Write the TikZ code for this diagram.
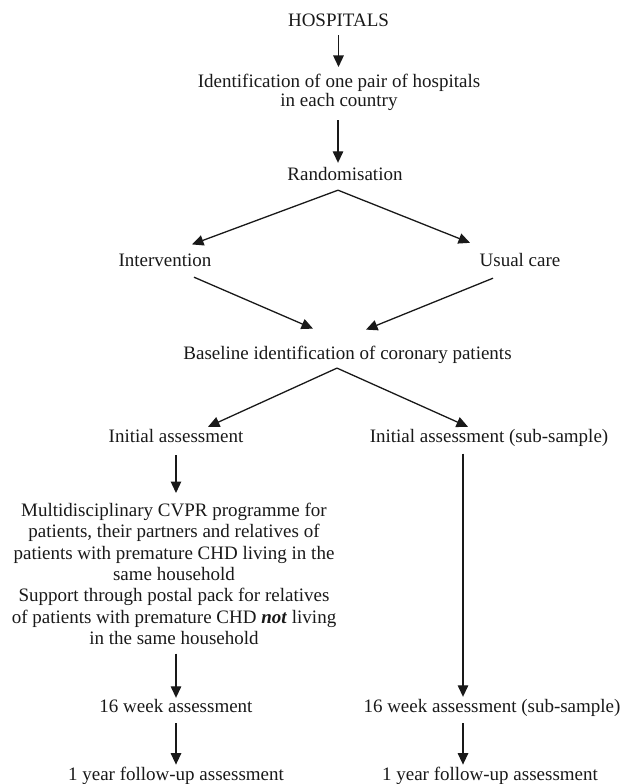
\documentclass[tikz,border=0pt]{standalone}
\usepackage{fontspec}
\setmainfont{Liberation Serif}
\usetikzlibrary{arrows.meta,calc}
\begin{document}
\begin{tikzpicture}[x=1pt,y=-1pt,
  lbl/.style={inner sep=0pt,outer sep=0pt,text=black!90,font=\fontsize{19}{19}\selectfont},
  multi/.style={lbl,align=center},
  arr/.style={line width=1.3pt,draw=black!90,-{Triangle[length=11.5pt,width=10.5pt]}}]
\useasboundingbox (0,0) rectangle (627,784);
% nodes
\node[lbl,anchor=base] (hosp) at (338.5,27) {HOSPITALS};
\node[multi,anchor=north,font=\fontsize{19}{19}\selectfont] (ident) at (339,74) {Identification of one pair of hospitals\\in each country};
\node[lbl,anchor=base] (rand) at (345,180) {Randomisation};
\node[lbl,anchor=base] (interv) at (165,266) {Intervention};
\node[lbl,anchor=base] (usual) at (520,266) {Usual care};
\node[lbl,anchor=base] (basel) at (347.5,359) {Baseline identification of coronary patients};
\node[lbl,anchor=base] (init) at (176,442) {Initial assessment};
\node[lbl,anchor=base] (initr) at (489,442) {Initial assessment (sub-sample)};
\node[multi,anchor=north,font=\fontsize{19}{21.33}\selectfont] (block) at (174,503) {Multidisciplinary CVPR programme for\\patients, their partners and relatives of\\patients with premature CHD living in the\\same household\\Support through postal pack for relatives\\of patients with premature CHD \textbf{\textit{not}} living\\in the same household};
\node[lbl,anchor=base] (w16) at (176,712) {16 week assessment};
\node[lbl,anchor=base] (w16r) at (492,712) {16 week assessment (sub-sample)};
\node[lbl,anchor=base] (y1) at (176,780) {1 year follow-up assessment};
\node[lbl,anchor=base] (y1r) at (490,780) {1 year follow-up assessment};
% apex coordinates
\coordinate (apexA) at ($(rand.south)+(-7,10)$);
\coordinate (apexB) at ($(basel.south)+(-10.5,5)$);
% connectors
\draw[arr] ($(hosp.south)+(0,8)$) -- ($(ident.north -| hosp.south)+(0,-7)$);
\draw[arr] ($(ident.south)+(-1,10)$) -- ($(rand.north -| ident.south)+(-1,-4)$);
\draw[arr] (apexA) -- ($(interv.north)+(27,-9)$);
\draw[arr] (apexA) -- ($(usual.north)+(-50,-10)$);
\draw[arr] ($(interv.south)+(29,11)$) -- ($(basel.north)+(-34.5,-17)$);
\draw[arr] ($(usual.south)+(-27,12)$) -- ($(basel.north)+(18.5,-16)$);
\draw[arr] (apexB) -- ($(init.north)+(32,-2)$);
\draw[arr] (apexB) -- ($(initr.north)+(-21,-2)$);
\draw[arr] ($(init.south)+(0,13)$) -- ($(block.north -| init.south)+(0,-10)$);
\draw[arr] ($(block.south -| init.south)+(0,9)$) -- ($(w16.north)+(0,-1)$);
\draw[arr] ($(w16.south)+(0,11)$) -- ($(y1.north)+(0,-2)$);
\draw[arr] ($(initr.south)+(-26,7.6)$) -- ($(w16r.north)+(-29,-2)$);
\draw[arr] ($(w16r.south)+(-29,7)$) -- ($(y1r.north)+(-27,-2)$);
\end{tikzpicture}
\end{document}
